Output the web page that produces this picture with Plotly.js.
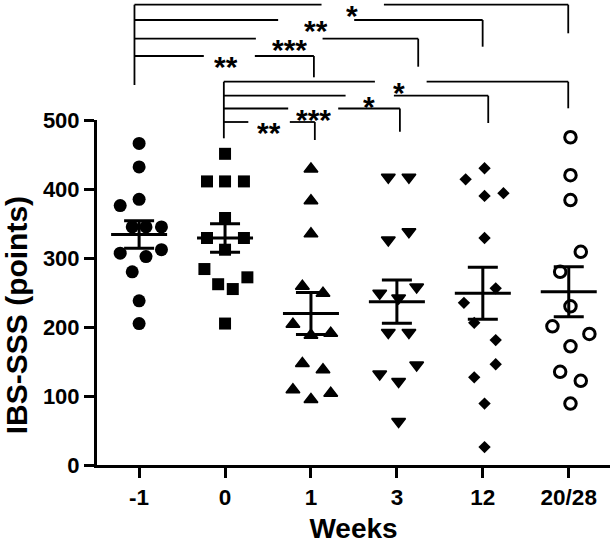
<!DOCTYPE html>
<html>
<head>
<meta charset="utf-8">
<script src="https://cdn.plot.ly/plotly-3.0.1.min.js"></script>
<style>html,body{margin:0;padding:0;background:#fff;}#chart{width:615px;height:544px;}</style>
</head>
<body>
<div id="chart"></div>
<script>
// ---- data ----
const categories = ['-1', '0', '1', '3', '12', '20/28'];
const weekM1   = [466, 432, 385, 376, 345, 345, 345, 312, 307, 302, 280, 238, 205];
const week0    = [451, 411, 411, 411, 358, 329, 329, 312, 284, 262, 255, 272, 205];
const week1    = [429, 383, 335, 259, 249, 204, 188, 191, 147, 138, 109, 95, 104];
const week3    = [417, 417, 326, 338, 258, 249, 242, 192, 192, 145, 132, 121, 63];
const week12   = [430, 414, 390, 394, 329, 256, 235, 206, 181, 146, 127, 89, 26];
const week2028 = [475, 420, 384, 309, 280, 230, 201, 190, 172, 135, 122, 89];
const groupMeans = [334, 329, 219.5, 236.7, 249, 251];
const groupSEM   = [20, 20.5, 30.5, 31.4, 37.7, 36.2];
const yTicks = [0, 100, 200, 300, 400, 500];

// dot-plot horizontal spread of points, in category units
const spreadM1   = [0, 0, 0, -0.22, -0.08, 0.08, 0.26, 0.26, -0.22, 0.08, -0.08, 0, 0];
const spread0    = [0, -0.21, 0, 0.22, 0, -0.21, 0.22, 0, -0.24, -0.08, 0.09, 0.26, 0];
const spread1    = [0, 0, 0, -0.1, 0.14, -0.21, 0, 0.23, -0.1, 0.14, -0.21, 0, 0.23];
const spread3    = [-0.1, 0.14, -0.1, 0.14, 0.23, -0.2, 0.02, -0.1, 0.14, 0.23, -0.2, 0.02, 0.02];
const spread12   = [0.02, -0.2, 0.02, 0.24, 0.02, 0.15, -0.22, -0.1, 0.15, 0.15, -0.1, 0.02, 0.02];
const spread2028 = [0.02, 0.02, 0.02, 0.14, -0.1, 0.02, -0.19, 0.24, 0.02, -0.1, 0.14, 0.02];

// significance brackets (x in category units, y in bracket-panel units)
const brStars = ['*', '**', '***', '**', '*', '*', '***', '**'];
const brLevel = [4.7, 20, 38.7, 56, 81.7, 95.7, 108.5, 122];
const brLeft  = [-0.054, -0.054, -0.054, -0.054, 0.986, 0.986, 0.986, 0.986];
const brGapL  = [2.123, 1.618, 1.359, 0.753, 2.744, 2.403, 1.735, 1.271];
const brStarX = [2.473, 2.057, 1.754, 1.009, 3.027, 2.678, 2.026, 1.513];
const brGapR  = [2.849, 2.503, 2.135, 1.347, 3.346, 2.965, 2.317, 1.754];
const brRight = [4.994, 3.998, 3.248, 2.034, 4.994, 4.063, 3.035, 2.045];
const brDrop  = [33.3, 46.7, 66.7, 77.3, 108.3, 123, 131.7, 140];
const brStems = [{x: -0.054, y0: 4.7, y1: 85}, {x: 0.986, y0: 81.7, y1: 138.3}];

// ---- build ----
const FONT = 'Liberation Sans, Arial, sans-serif';
const groups = [
  {vals: weekM1, sp: spreadM1, sym: 'circle', size: 13, lw: 0},
  {vals: week0, sp: spread0, sym: 'square', size: 12, lw: 0},
  {vals: week1, sp: spread1, sym: 'triangle-up', size: 12, lw: 1.5},
  {vals: week3, sp: spread3, sym: 'triangle-down', size: 12, lw: 1.5},
  {vals: week12, sp: spread12, sym: 'diamond', size: 9.5, lw: 0},
  {vals: week2028, sp: spread2028, sym: 'circle-open', size: 11.5, lw: 3}
];
const traces = groups.map((g, gi) => ({
  type: 'scatter', mode: 'markers',
  x: g.vals.map((v, i) => gi + g.sp[i]),
  y: g.vals,
  marker: {symbol: g.sym, size: g.size, color: '#000', line: {color: '#000', width: g.lw}},
  showlegend: false, hoverinfo: 'skip', cliponaxis: false
}));
traces.push({
  type: 'scatter', mode: 'markers',
  x: categories.map((c, i) => i), y: groupMeans,
  marker: {symbol: 'line-ew', size: 40, color: '#000', line: {color: '#000', width: 3}},
  error_y: {type: 'data', array: groupSEM, visible: true, color: '#000', thickness: 3, width: 15},
  showlegend: false, hoverinfo: 'skip', cliponaxis: false
});
traces.push({type: 'scatter', x: [], y: [], xaxis: 'x', yaxis: 'y2', showlegend: false});

const LW = 1.8;
const shapes = [];
const annotations = [];
function seg(x0, y0, x1, y1) {
  shapes.push({type: 'line', xref: 'x', yref: 'y2', x0: x0, y0: y0, x1: x1, y1: y1,
               line: {color: '#000', width: LW}});
}
brStems.forEach(s => seg(s.x, s.y0, s.x, s.y1));
brStars.forEach((st, i) => {
  seg(brLeft[i], brLevel[i], brGapL[i], brLevel[i]);
  seg(brGapR[i], brLevel[i], brRight[i], brLevel[i]);
  seg(brRight[i], brLevel[i], brRight[i], brDrop[i]);
  annotations.push({xref: 'x', yref: 'y2', x: brStarX[i], y: brLevel[i], text: st,
    showarrow: false, xanchor: 'center', yanchor: 'middle', yshift: -10, height: 26,
    font: {family: FONT, size: 30, color: '#000', weight: 'bold'}});
});
// y-axis title
annotations.push({xref: 'paper', yref: 'paper', x: -0.158, y: 0.322, text: 'IBS-SSS (points)',
  textangle: -90, showarrow: false, xanchor: 'center', yanchor: 'middle',
  font: {family: FONT, size: 30, color: '#000', weight: 'bold'}});

const layout = {
  width: 615, height: 544,
  margin: {l: 97, r: 5, t: 0, b: 79, pad: 0},
  paper_bgcolor: '#fff', plot_bgcolor: 'rgba(0,0,0,0)',
  showlegend: false,
  xaxis: {
    range: [-0.49, 5.48], tickvals: categories.map((c, i) => i), ticktext: categories,
    showline: true, linecolor: '#000', linewidth: 3, ticks: 'outside', ticklen: 10, tickwidth: 3,
    tickcolor: '#000', showgrid: false, zeroline: false, anchor: 'y', fixedrange: true,
    tickfont: {family: FONT, size: 22.5, color: '#000', weight: 'bold'},
    title: {text: 'Weeks', font: {family: FONT, size: 28, color: '#000', weight: 'bold'}, standoff: 16}
  },
  yaxis: {
    domain: [0, 345 / 465], range: [0, 500], tickvals: yTicks,
    showline: true, linecolor: '#000', linewidth: 3, ticks: 'outside', ticklen: 10, tickwidth: 3,
    tickcolor: '#000', showgrid: false, zeroline: false, fixedrange: true,
    tickfont: {family: FONT, size: 22, color: '#000', weight: 'bold'}
  },
  yaxis2: {domain: [320 / 465, 1], range: [145, 0], visible: false, anchor: 'x', fixedrange: true},
  shapes: shapes,
  annotations: annotations
};
Plotly.newPlot('chart', traces, layout, {displayModeBar: false, staticPlot: true});
</script>
</body>
</html>
